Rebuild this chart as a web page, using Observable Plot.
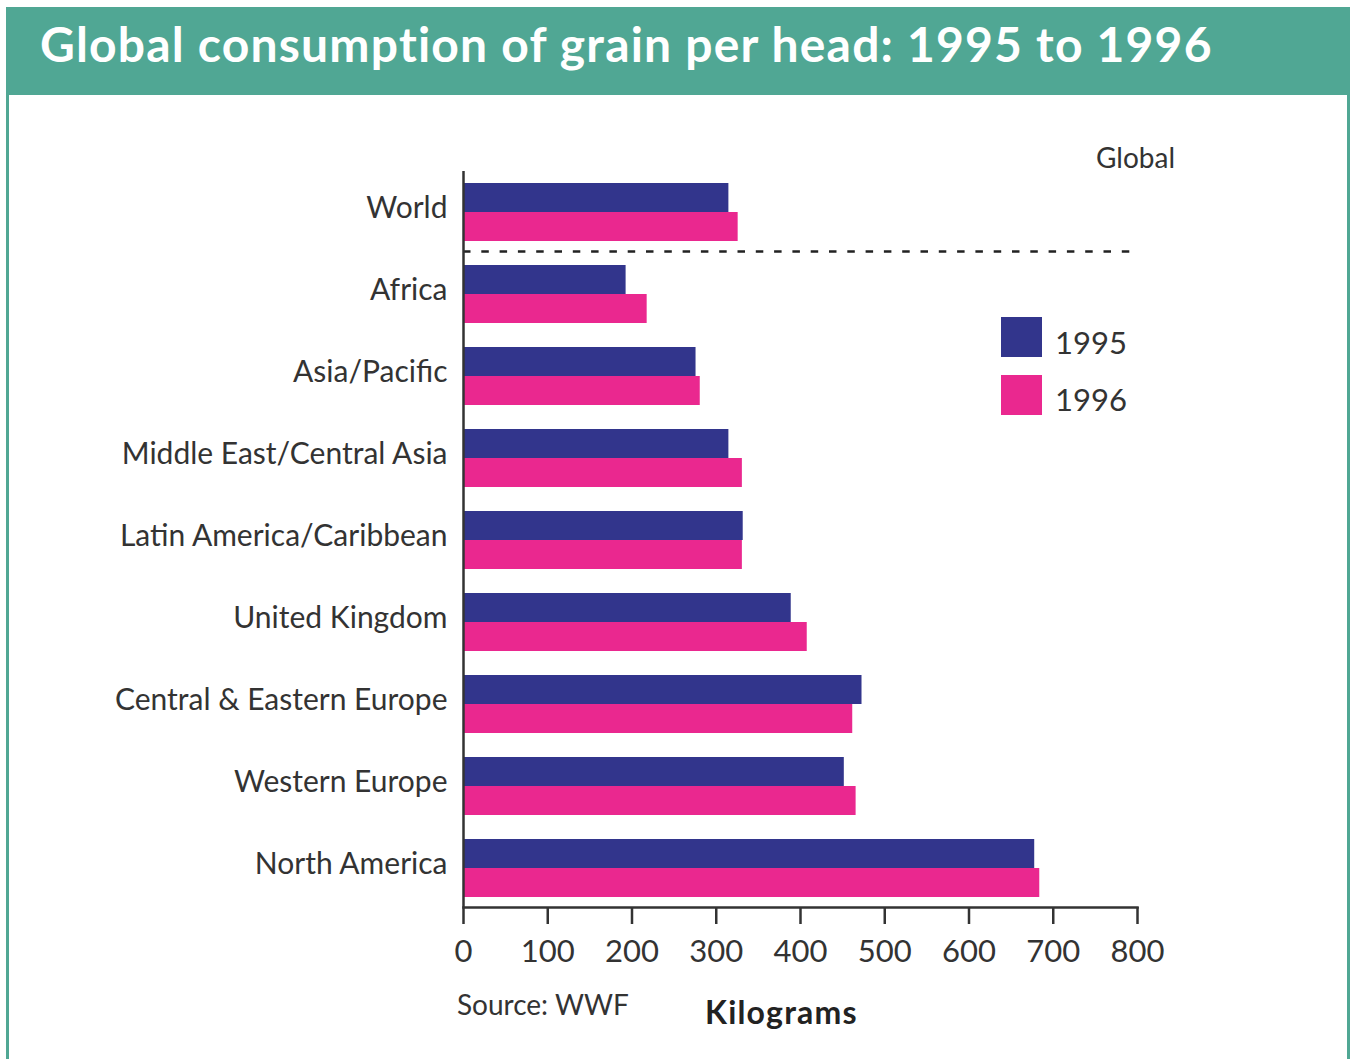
<!DOCTYPE html>
<html>
<head>
<meta charset="utf-8">
<script src="https://cdn.jsdelivr.net/npm/d3@7"></script>
<script src="https://cdn.jsdelivr.net/npm/@observablehq/plot@0.6"></script>
<style>
  html, body { margin: 0; padding: 0; background: #fff; }
  #page { position: relative; width: 1354px; height: 1059px; overflow: hidden; font-family: Lato, "Open Sans", sans-serif; color: #333; }
  #box { position: absolute; left: 6px; top: 7px; width: 1338px; height: 1100px; border: 3px solid #50a794; border-bottom: none; }
  #header { position: absolute; left: 6px; top: 7px; width: 1344px; height: 88px; background: #50a794; }
  .t { position: absolute; line-height: 1; white-space: nowrap; }
  #title { left: 40px; top: 20px; font-size: 48px; font-weight: 700; color: #fff; letter-spacing: 1.2px; }
  #global { right: 179px; top: 143px; font-size: 28px; }
  .sw { position: absolute; width: 41px; height: 40px; }
  .lg { font-size: 31px; left: 1055px; }
  #source { left: 457px; top: 990px; font-size: 28px; }
  #unit { left: 705px; top: 996px; font-size: 32px; font-weight: 700; color: #222; letter-spacing: 1.2px; }
  #chart { position: absolute; left: 0; top: 100px; }
</style>
</head>
<body>
<div id="page">
  <div id="box"></div>
  <div id="header"></div>
  <div class="t" id="title">Global consumption of grain per head: 1995 to 1996</div>
  <div class="t" id="global">Global</div>
  <div id="legend"></div>
  <div class="t" id="source">Source: WWF</div>
  <div class="t" id="unit">Kilograms</div>
  <div id="chart"></div>
</div>
<script>
const categories = ["World", "Africa", "Asia/Pacific", "Middle East/Central Asia", "Latin America/Caribbean", "United Kingdom", "Central & Eastern Europe", "Western Europe", "North America"];
const years = ["1995", "1996"];
const values1995 = [315, 193, 276, 315, 332, 389, 473, 452, 678];
const values1996 = [326, 218, 281, 331, 331, 408, 462, 466, 684];
const xTicks = [0, 100, 200, 300, 400, 500, 600, 700, 800];
const colors = ["#32358c", "#ea288f"];

const rows1995 = categories.map((c, i) => ({category: c, year: years[0], value: values1995[i]}));
const rows1996 = categories.map((c, i) => ({category: c, year: years[1], value: values1996[i]}));

const step = 82, band = 58;
const chart = Plot.plot({
  width: 1354,
  height: 959,
  marginLeft: 463,
  marginRight: 217,
  marginTop: 71,
  marginBottom: 152,
  style: {fontFamily: "Lato, 'Open Sans', sans-serif", color: "#333", background: "transparent"},
  x: {domain: [0, 800]},
  y: {domain: categories, range: [71, 809], paddingInner: (step - band) / step, paddingOuter: (step - band) / step / 2},
  color: {domain: years, range: colors},
  marks: [
    Plot.barX(rows1995, {x: "value", y: "category", fill: "year", insetBottom: band / 2}),
    Plot.barX(rows1996, {x: "value", y: "category", fill: "year", insetTop: band / 2}),
    Plot.ruleY(["Africa"], {x1: 0, x2: 800, dy: -43, stroke: "#222", strokeWidth: 2.5, strokeDasharray: "7.5,10.8"}),
    Plot.ruleX([0], {stroke: "#333", strokeWidth: 2.5}),
    Plot.frame({anchor: "bottom", stroke: "#333", strokeWidth: 2.5}),
    Plot.axisX({ticks: xTicks, tickSize: 17, tickPadding: 15, strokeWidth: 2.5, stroke: "#333", fontSize: 31, fill: "#333", label: null, tickFormat: d => String(d)}),
    Plot.axisY({tickSize: 0, tickPadding: 16, fontSize: 30, fill: "#333", label: null, dy: -4})
  ]
});
document.getElementById("chart").appendChild(chart);

const legend = document.getElementById("legend");
years.forEach((y, i) => {
  const sw = document.createElement("div");
  sw.className = "sw";
  sw.style.left = "1001px";
  sw.style.top = (317 + i * 58) + "px";
  sw.style.background = colors[i];
  legend.appendChild(sw);
  const t = document.createElement("div");
  t.className = "t lg";
  t.style.top = (327 + i * 57) + "px";
  t.textContent = y;
  legend.appendChild(t);
});
</script>
</body>
</html>
